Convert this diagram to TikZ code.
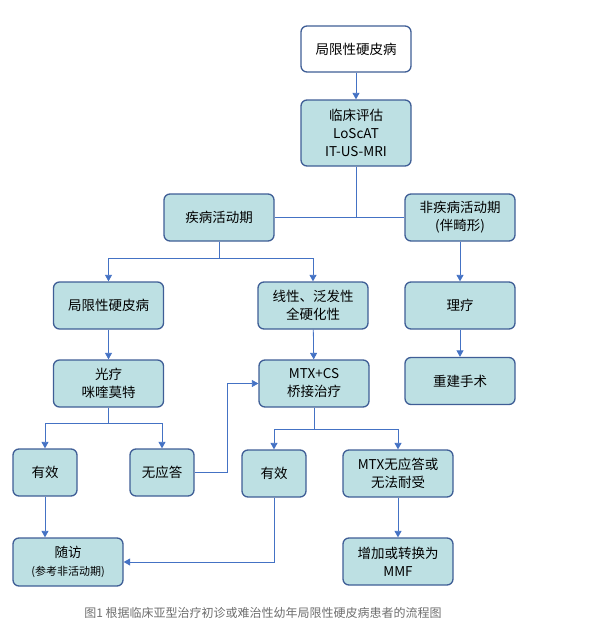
\documentclass[tikz,border=0pt]{standalone}
\usepackage{fontspec}
\usepackage{tikz}
\usetikzlibrary{arrows.meta}
\setmainfont{Noto Sans CJK SC}

\definecolor{boxfill}{HTML}{BDE0E3}
\definecolor{boxline}{HTML}{3F5E96}
\definecolor{linkblue}{HTML}{4472C4}
\definecolor{capgray}{HTML}{6E6E6E}

\tikzset{
  box/.style={draw=boxline, line width=1.3pt, fill=boxfill, rounded corners=6pt,
    minimum width=110pt, minimum height=47pt, align=center, inner sep=2pt,
    font=\fontsize{13.5}{18}\selectfont},
  smallbox/.style={box, minimum width=64pt},
  link/.style={draw=linkblue, line width=0.8pt}
}

\begin{document}
\begin{tikzpicture}[x=1pt, y=-1pt, >={Triangle[length=6.5pt,width=7pt]}]
  \useasboundingbox (0,0) rectangle (595,626);

  % boxes
  \node[box, fill=white, minimum height=46pt] (top) at (356,49) {局限性硬皮病};
  \node[box, minimum height=66pt] (eval) at (356,133) {临床评估\\LoScAT\\IT-US-MRI};
  \node[box] (act) at (219,217.5) {疾病活动期};
  \node[box] (nonact) at (460,217.5) {非疾病活动期\\(伴畸形)};
  \node[box] (loc) at (108.5,305.5) {局限性硬皮病};
  \node[box] (lin) at (313,305.5) {线性、泛发性\\全硬化性};
  \node[box] (phys) at (460,305.5) {理疗};
  \node[box] (photo) at (108.5,383.5) {光疗\\咪喹莫特};
  \node[box] (mtx) at (314,383.5) {MTX+CS\\桥接治疗};
  \node[box] (surg) at (460,381) {重建手术};
  \node[smallbox] (effa) at (45,472.5) {有效};
  \node[smallbox] (noresp) at (162,472.5) {无应答};
  \node[smallbox] (effb) at (274,473.5) {有效};
  \node[box] (mtxno) at (398,473.5) {MTX无应答或\\无法耐受};
  \node[box, minimum height=48pt] (follow) at (68,562) {随访\\{\fontsize{11}{14}\selectfont (参考非活动期)}};
  \node[box] (mmf) at (398,561.5) {增加或转换为\\MMF};

  % junctions
  \coordinate (ja) at (219,258);
  \coordinate (jb) at (108.5,423);
  \coordinate (jc) at (314,429);
  \coordinate (bend) at (227,472.5);

  % connectors
  \draw[link, ->] (top) -- (eval);
  \draw[link] (eval.south) -- (eval.south |- act.east);
  \draw[link] (act.east) -- (nonact.west);
  \draw[link] (act.south) -- (ja);
  \foreach \t in {loc,lin}{ \draw[link, ->] (ja) -| (\t.north); }
  \draw[link, ->] (nonact) -- (phys);
  \draw[link, ->] (phys) -- (surg);
  \draw[link, ->] (loc) -- (photo);
  \draw[link, ->] (lin) -- (mtx);
  \draw[link] (photo.south) -- (jb);
  \foreach \t in {effa,noresp}{ \draw[link, ->] (jb) -| (\t.north); }
  \draw[link] (noresp.east) -- (bend);
  \draw[link, ->] (bend) |- (mtx.west);
  \draw[link] (mtx.south) -- (jc);
  \foreach \t in {effb,mtxno}{ \draw[link, ->] (jc) -| (\t.north); }
  \draw[link, ->] (effa.south) -- (effa.south |- follow.north);
  \draw[link, ->] (effb.south) |- (follow.east);
  \draw[link, ->] (mtxno) -- (mmf);

  \node[text=capgray, font=\fontsize{12}{14}\selectfont] (caption) at (263,613)
    {图1 根据临床亚型治疗初诊或难治性幼年局限性硬皮病患者的流程图};
\end{tikzpicture}
\end{document}
